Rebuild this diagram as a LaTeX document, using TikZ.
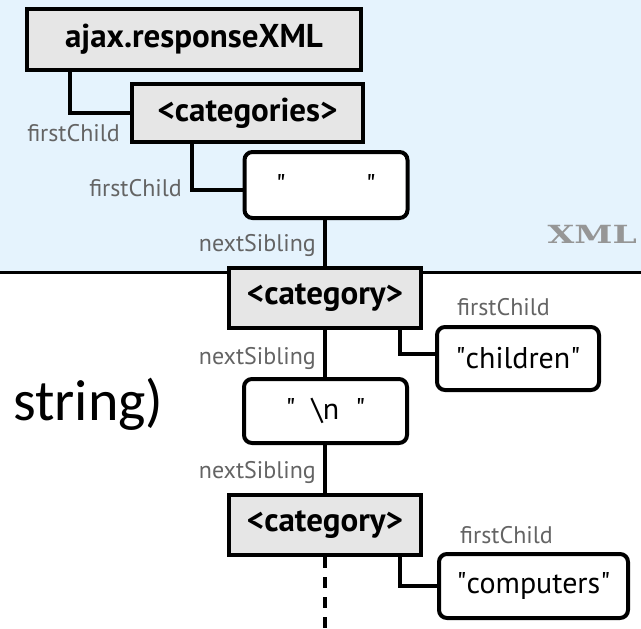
\documentclass[tikz,border=0pt]{standalone}
\usepackage{fontspec}
\setmainfont{PT Sans}
\newfontfamily\calibrifont{Carlito}
\newfontfamily\slabfont{DejaVu Serif}
\definecolor{xmlblue}{RGB}{229,243,253}
\definecolor{tagfill}{RGB}{230,230,230}
\definecolor{labelgray}{RGB}{100,100,100}
\definecolor{xmlgray}{RGB}{150,150,150}
\newcommand{\dq}{\textquotedbl}
\tikzset{
  x=1pt, y=-1pt,
  tagbox/.style={draw=black, line width=4pt, fill=tagfill, inner sep=0pt,
    font=\fontsize{33}{36}\selectfont\bfseries},
  textbox/.style={draw=black, line width=4pt, fill=white, rounded corners=8pt,
    inner sep=0pt, font=\fontsize{30}{34}\selectfont},
  link/.style={line width=4pt, draw=black},
  linklabel/.style={font=\fontsize{24}{26}\selectfont, text=labelgray,
    inner sep=0pt, anchor=base east},
}
\begin{document}
\begin{tikzpicture}
\useasboundingbox (0,0) rectangle (641,629);
% XML region and its border
\fill[xmlblue] (0,0) rectangle (641,272);
\draw[line width=3pt] (0,272) -- (641,272);
\node[inner sep=0pt, anchor=base east, text=xmlgray,
  font=\fontsize{25}{27}\slabfont\bfseries] (xmltag) at (637,243) {\scalebox{1.38}[1]{XML}};

% side text
\node[inner sep=0pt, anchor=base west, font=\fontsize{58}{62}\calibrifont] (str) at (13,420) {string)};

% nodes
\node[tagbox, minimum width=334pt, minimum height=61pt] (ajax) at (194,39.5) {ajax.responseXML};
\node[tagbox, minimum width=231pt, minimum height=58pt] (cats) at (247.5,113) {<categories>};
\node[textbox, minimum width=163pt, minimum height=66pt] (ws1) at (326,185) {\dq\hspace{80pt}\dq};
\node[tagbox, minimum width=192pt, minimum height=60pt] (cat1) at (325,298) {<category>};
\node[textbox, minimum width=162pt, minimum height=63pt] (kids) at (518,358.5) {\dq children\dq};
\node[textbox, minimum width=163pt, minimum height=64pt] (nl) at (325.5,411) {\dq\hspace{16pt}\textbackslash n\hspace{16pt}\dq};
\node[tagbox, minimum width=192pt, minimum height=60pt] (cat2) at (325,525) {<category>};
\node[textbox, minimum width=189pt, minimum height=64pt] (comp) at (533.5,586) {\dq computers\dq};
\coordinate (tail) at (325,629);

% connectors
\draw[link] ([xshift=45pt]ajax.south west) |- (cats.west);
\draw[link] ([xshift=62pt]cats.south west) |- ([yshift=-5pt]ws1.west);
\draw[link] (ws1.south -| cat1.north) -- (cat1.north);
\draw[link] ([xshift=-23pt]cat1.south east) |- ([yshift=5pt]kids.west);
\draw[link] (cat1.south) -- (nl.north -| cat1.south);
\draw[link] (nl.south -| cat2.north) -- (cat2.north);
\draw[link] ([xshift=-23pt]cat2.south east) |- (comp.west);
\draw[link, dash pattern=on 11pt off 9pt] (cat2.south) -- (tail);

% connector labels
\node[linklabel] (l1) at (120,141) {firstChild};
\node[linklabel] (l2) at (182,196) {firstChild};
\node[linklabel] (l3) at (316,251) {nextSibling};
\node[linklabel] (l4) at (316,364) {nextSibling};
\node[linklabel] (l5) at (316,478) {nextSibling};
\node[linklabel, anchor=base west] (l6) at (457,315) {firstChild};
\node[linklabel, anchor=base west] (l7) at (460,543) {firstChild};
\end{tikzpicture}
\end{document}
